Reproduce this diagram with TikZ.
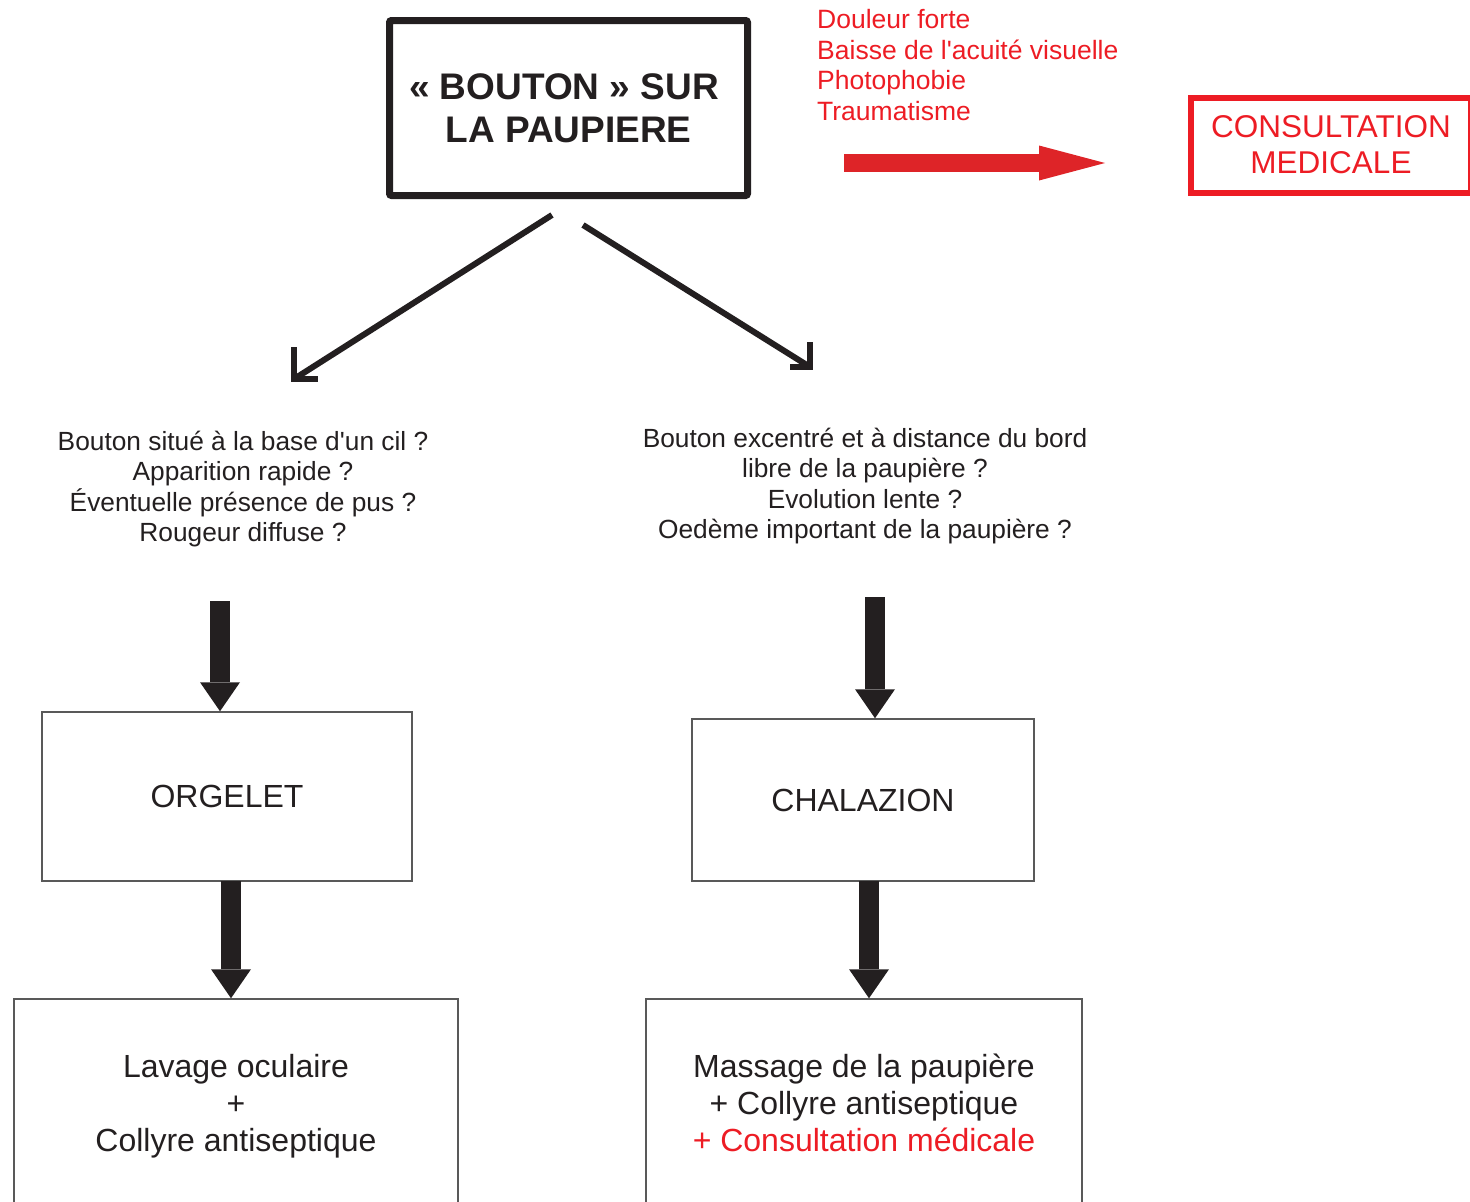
\documentclass[tikz,border=0pt]{standalone}
\usepackage{fontspec}
\setmainfont{Liberation Sans}[Ligatures=TeXOff]
\usetikzlibrary{arrows.meta,positioning}
\definecolor{ink}{HTML}{231F20}
\definecolor{alert}{HTML}{ED1C24}
\definecolor{alertarrow}{HTML}{DE2428}

\begin{document}
\begin{tikzpicture}[x=1pt,y=-1pt,
  every node/.style={text=ink,inner sep=0pt},
  box/.style={draw=black!65,line width=1.5pt,align=center,font=\fontsize{32}{37}\selectfont},
  question/.style={align=center,font=\fontsize{26.3}{30.6}\selectfont},
  fat/.style={draw=ink,line width=20pt,-{Triangle[width=40pt,length=29pt,line width=0pt]}},
  branch/.style={draw=ink,line width=6pt,miter limit=4}]
  \useasboundingbox (0,0) rectangle (1470,1202);

  \node[draw=ink,line width=7pt,rounded corners=2pt,minimum width=358pt,minimum height=175pt,
        align=center,font=\bfseries\fontsize{37}{43}\selectfont] (top) at (568.5,108) {« BOUTON » SUR\hspace*{9pt}\\LA PAUPIERE};
  \node[anchor=west,align=left,text=alert,font=\fontsize{26.5}{30.7}\selectfont] (signs) at (817,65)
    {Douleur forte\\Baisse de l'acuité visuelle\\Photophobie\\Traumatisme};
  \node[draw=alert,line width=6pt,minimum width=280pt,minimum height=95pt,align=center,
        text=alert,font=\fontsize{31.5}{36}\selectfont] (cons) at (1331,145) {CONSULTATION\\MEDICALE};

  \node[question] (q1) at (243,489) {Bouton situé à la base d'un cil ?\\Apparition rapide ?\\Éventuelle présence de pus ?\\Rougeur diffuse ?};
  \node[question] (q2) at (865,486) {Bouton excentré et à distance du bord\\libre de la paupière ?\\Evolution lente ?\\Oedème important de la paupière ?};

  \node[box,minimum width=370pt,minimum height=169pt] (orge) at (227,796.5) {ORGELET};
  \node[box,minimum width=342pt,minimum height=162pt] (chal) at (863,800) {CHALAZION};
  \node[box,minimum width=444pt,minimum height=214pt] (lav) at (236,1106) {Lavage oculaire\\+\\Collyre antiseptique};
  \node[box,minimum width=436pt,minimum height=208pt] (mas) at (864,1103)
    {Massage de la paupière\\+ Collyre antiseptique\\\textcolor{alert}{+ Consultation médicale}};

  % red arrow towards consultation
  \coordinate (r1) at (844,163);
  \coordinate (r2) at (1105,163);
  \draw[alertarrow,line width=18pt,-{Triangle[width=35pt,length=66pt,line width=0pt]}] (r1) -- (r2);

  % the two branches
  \coordinate (bl) at (552,215);
  \coordinate (cl) at (294,379);
  \draw[branch] (bl) -- (cl);
  \draw[branch] ([yshift=32pt]cl) -- (cl) -- ([xshift=24pt]cl);
  \coordinate (br) at (583,225);
  \coordinate (cr) at (810,367);
  \draw[branch] (br) -- (cr);
  \draw[branch] ([yshift=25pt]cr) -- (cr) -- ([xshift=-20pt]cr);

  % fat arrows
  \coordinate (a1) at (220,601);
  \coordinate (a2) at (231,881);
  \coordinate (a3) at (875,597);
  \coordinate (a4) at (869,881);
  \draw[fat] (a1) -- (a1 |- orge.north);
  \draw[fat] (a2) -- (a2 |- lav.north);
  \draw[fat] (a3) -- (a3 |- chal.north);
  \draw[fat] (a4) -- (a4 |- mas.north);
\end{tikzpicture}
\end{document}
